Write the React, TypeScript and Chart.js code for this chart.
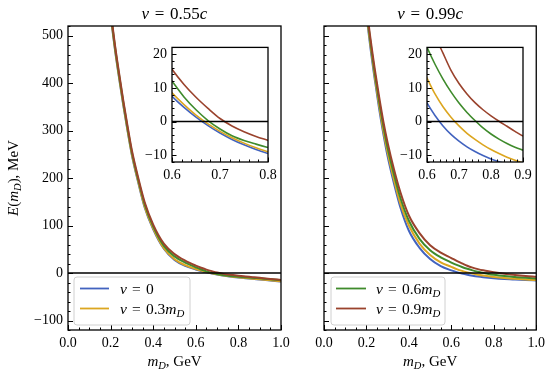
import React, { useEffect, useRef } from 'react';
import { Chart, registerables } from 'chart.js';

Chart.register(...registerables);

// ---------- data ----------
const mD = [0.18, 0.2, 0.22, 0.24, 0.26, 0.28, 0.3, 0.33, 0.36, 0.4, 0.45, 0.5, 0.55, 0.6, 0.625, 0.65, 0.675, 0.7, 0.725, 0.75, 0.775, 0.8, 0.825, 0.85, 0.875, 0.9, 0.95, 1.0];

// v = 0.55c
const slowNu0 = [640, 545, 472, 410, 352, 298, 248, 190, 138, 92, 51, 27.5, 15, 7.5, 4.2, 1.3, -1.2, -3.4, -5.3, -6.9, -8.3, -9.5, -10.6, -11.7, -12.7, -13.7, -15.9, -18];
const slowNu03 = [642, 547, 474, 412, 354, 300, 250, 192, 140, 94, 52, 29, 16.5, 8.5, 5.0, 1.9, -0.7, -2.9, -4.8, -6.4, -7.8, -9.0, -10.2, -11.3, -12.3, -13.3, -15.4, -17.4];
const slowNu06 = [646, 551, 478, 416, 358, 304, 254, 196, 145, 98, 57, 35, 22, 12, 7.3, 3.5, 0.3, -2.2, -4.2, -5.6, -6.7, -7.7, -8.6, -9.5, -10.4, -11.3, -13.3, -15.3];
const slowNu09 = [650, 555, 482, 420, 362, 308, 258, 200, 149, 102, 62, 40, 26, 15.5, 11, 7.2, 3.9, 0.9, -1.3, -3.0, -4.4, -5.6, -6.8, -8.0, -9.1, -10.2, -12.4, -14.5];

// v = 0.99c
const fastNu0 = [640, 545, 470, 405, 345, 292, 245, 188, 138, 89, 53, 29.5, 14.5, 5.5, 1.8, -1.3, -3.8, -5.8, -7.5, -8.9, -10.1, -11.1, -11.9, -12.6, -13.2, -13.7, -14.8, -15.8];
const fastNu03 = [645, 550, 476, 411, 352, 299, 253, 196, 146, 100, 62, 38, 22.5, 12.9, 8.2, 4.4, 1.3, -1.3, -3.5, -5.3, -6.9, -8.3, -9.5, -10.6, -11.5, -12.3, -13.7, -14.9];
const fastNu06 = [650, 556, 483, 419, 361, 309, 263, 207, 158, 110, 72, 48, 33, 22, 17, 12.6, 8.8, 5.5, 2.7, 0.3, -1.9, -3.7, -5.2, -6.5, -7.6, -8.5, -10.2, -11.6];
const fastNu09 = [655, 562, 490, 427, 370, 318, 274, 218, 170, 121, 84, 58.5, 43, 31.5, 25.5, 20.3, 15.2, 11.3, 8.2, 5.6, 3.5, 1.7, 0.1, -1.4, -2.9, -4.3, -6.4, -8];

const mainXTicks = [0, 0.2, 0.4, 0.6, 0.8, 1.0];
const mainYTicks = [-100, 0, 100, 200, 300, 400, 500];
const insetYTicks = [-10, 0, 10, 20];
const slowInsetXTicks = [0.6, 0.7, 0.8];
const fastInsetXTicks = [0.6, 0.7, 0.8, 0.9];

const colors = ['#4263bf', '#dca620', '#3f8b2c', '#9a432d'];

// ---------- text helpers ----------
type Seg = { t: string; i?: boolean; sub?: boolean };
const SERIF = '"Liberation Serif", "DejaVu Serif", serif';
const EQ = '\u2004=\u2004';

const nuLabels: Seg[][] = [
  [{ t: '\u03bd', i: true }, { t: EQ + '0' }],
  [{ t: '\u03bd', i: true }, { t: EQ + '0.3' }, { t: 'm', i: true }, { t: 'D', i: true, sub: true }],
  [{ t: '\u03bd', i: true }, { t: EQ + '0.6' }, { t: 'm', i: true }, { t: 'D', i: true, sub: true }],
  [{ t: '\u03bd', i: true }, { t: EQ + '0.9' }, { t: 'm', i: true }, { t: 'D', i: true, sub: true }],
];

function fontStr(size: number, italic?: boolean) {
  return `${italic ? 'italic ' : ''}${size}px ${SERIF}`;
}

function drawRich(ctx: CanvasRenderingContext2D, segs: Seg[], x: number, y: number, size: number, align: 'center' | 'left') {
  let w = 0;
  for (const s of segs) {
    ctx.font = fontStr(s.sub ? size * 0.7 : size, s.i);
    w += ctx.measureText(s.t).width;
  }
  let cx = align === 'center' ? x - w / 2 : x;
  ctx.textAlign = 'left';
  ctx.textBaseline = 'alphabetic';
  ctx.fillStyle = '#000';
  for (const s of segs) {
    const sz = s.sub ? size * 0.7 : size;
    ctx.font = fontStr(sz, s.i);
    ctx.fillText(s.t, cx, s.sub ? y + size * 0.22 : y);
    cx += ctx.measureText(s.t).width;
  }
}

function fmtNum(v: number, dec: number) {
  const s = Math.abs(v).toFixed(dec);
  return v < -1e-9 ? '\u2212' + s : s;
}

type Legend = { box: [number, number, number, number]; items: number[]; lineX: [number, number]; textX: number; rows: number[] };

type PanelCfg = {
  series: number[][];
  xMin: number; xMax: number; yMin: number; yMax: number;
  xTicks: number[]; yTicks: number[];
  xMinor: number; yMinor: number;
  showYLabels: boolean;
  padding: { left: number; top: number; right: number; bottom: number };
  yWidth: number; xHeight: number;
  lineWidth: number; majorLen: number; minorLen: number;
  whiteBg: boolean;
  title?: Seg[];
  xTitle?: boolean;
  yTitle?: boolean;
  legend?: Legend;
};

function tickValues(min: number, max: number, step: number) {
  const out: number[] = [];
  const n0 = Math.ceil(min / step - 1e-6);
  const n1 = Math.floor(max / step + 1e-6);
  for (let n = n0; n <= n1; n++) out.push(n * step);
  return out;
}

function isMajor(v: number, majors: number[]) {
  return majors.some((m) => Math.abs(m - v) < 1e-6);
}

function makeChart(canvas: HTMLCanvasElement, cfg: PanelCfg) {
  const decor = {
    id: 'decor',
    beforeDraw(chart: any) {
      if (!cfg.whiteBg) return;
      const a = chart.chartArea;
      const ctx = chart.ctx;
      ctx.save();
      ctx.fillStyle = '#fff';
      ctx.fillRect(a.left, a.top, a.right - a.left, a.bottom - a.top);
      ctx.restore();
    },
    afterDatasetsDraw(chart: any) {
      const ctx: CanvasRenderingContext2D = chart.ctx;
      const a = chart.chartArea;
      const xs = chart.scales.x;
      const ys = chart.scales.y;
      ctx.save();
      // zero line
      const y0 = ys.getPixelForValue(0);
      ctx.beginPath();
      ctx.moveTo(a.left, y0);
      ctx.lineTo(a.right, y0);
      ctx.lineWidth = 1.5;
      ctx.strokeStyle = '#000';
      ctx.stroke();
      // ticks (inward, bottom and left)
      ctx.lineWidth = 1;
      ctx.beginPath();
      for (const v of tickValues(cfg.xMin, cfg.xMax, cfg.xMinor)) {
        const px = Math.round(xs.getPixelForValue(v)) + 0.5;
        const len = isMajor(v, cfg.xTicks) ? cfg.majorLen : cfg.minorLen;
        ctx.moveTo(px, a.bottom);
        ctx.lineTo(px, a.bottom - len);
      }
      for (const v of tickValues(cfg.yMin, cfg.yMax, cfg.yMinor)) {
        const py = Math.round(ys.getPixelForValue(v)) + 0.5;
        const len = isMajor(v, cfg.yTicks) ? cfg.majorLen : cfg.minorLen;
        ctx.moveTo(a.left, py);
        ctx.lineTo(a.left + len, py);
      }
      ctx.stroke();
      // frame
      ctx.lineWidth = 1.3;
      ctx.strokeRect(a.left, a.top, a.right - a.left, a.bottom - a.top);
      ctx.restore();
    },
    afterDraw(chart: any) {
      const ctx: CanvasRenderingContext2D = chart.ctx;
      const a = chart.chartArea;
      const cx = (a.left + a.right) / 2;
      ctx.save();
      if (cfg.title) drawRich(ctx, cfg.title, cx, 18.5, 17, 'center');
      if (cfg.xTitle) {
        drawRich(ctx, [{ t: 'm', i: true }, { t: 'D', i: true, sub: true }, { t: ', GeV' }], cx, 366, 15, 'center');
      }
      if (cfg.yTitle) {
        ctx.save();
        ctx.translate(18, (a.top + a.bottom) / 2);
        ctx.rotate(-Math.PI / 2);
        drawRich(ctx, [{ t: 'E', i: true }, { t: '(' }, { t: 'm', i: true }, { t: 'D', i: true, sub: true }, { t: '), MeV' }], 0, 0, 15, 'center');
        ctx.restore();
      }
      const lg = cfg.legend;
      if (lg) {
        const [bx, by, bw, bh] = lg.box;
        const r = 3;
        ctx.beginPath();
        ctx.moveTo(bx + r, by);
        ctx.lineTo(bx + bw - r, by);
        ctx.arcTo(bx + bw, by, bx + bw, by + r, r);
        ctx.lineTo(bx + bw, by + bh - r);
        ctx.arcTo(bx + bw, by + bh, bx + bw - r, by + bh, r);
        ctx.lineTo(bx + r, by + bh);
        ctx.arcTo(bx, by + bh, bx, by + bh - r, r);
        ctx.lineTo(bx, by + r);
        ctx.arcTo(bx, by, bx + r, by, r);
        ctx.closePath();
        ctx.fillStyle = 'rgba(255,255,255,0.85)';
        ctx.fill();
        ctx.strokeStyle = '#d0d0d0';
        ctx.lineWidth = 1;
        ctx.stroke();
        lg.items.forEach((k, j) => {
          const ry = lg.rows[j];
          ctx.beginPath();
          ctx.moveTo(lg.lineX[0], ry);
          ctx.lineTo(lg.lineX[1], ry);
          ctx.strokeStyle = colors[k];
          ctx.lineWidth = 1.8;
          ctx.stroke();
          drawRich(ctx, nuLabels[k], lg.textX, ry + 5, 15.5, 'left');
        });
      }
      ctx.restore();
    },
  };

  const tickFont = { family: SERIF, size: 14 };

  return new Chart(canvas, {
    type: 'line',
    data: {
      datasets: cfg.series.map((vals, k) => ({
        label: 'nu' + k,
        data: mD.map((m, i) => ({ x: m, y: vals[i] })),
        borderColor: colors[k],
        backgroundColor: colors[k],
        borderWidth: cfg.lineWidth,
        pointRadius: 0,
        fill: false,
        cubicInterpolationMode: 'monotone',
        order: 3 - k,
        clip: 0,
      })),
    },
    options: {
      responsive: false,
      maintainAspectRatio: false,
      animation: false,
      devicePixelRatio: 1,
      layout: { padding: cfg.padding },
      plugins: { legend: { display: false }, tooltip: { enabled: false }, title: { display: false } },
      events: [],
      scales: {
        x: {
          type: 'linear',
          min: cfg.xMin,
          max: cfg.xMax,
          grid: { display: false, drawTicks: false },
          border: { display: false },
          ticks: {
            font: tickFont,
            color: '#000',
            padding: 5,
            maxRotation: 0,
            autoSkip: false,
            callback: (v: any) => fmtNum(Number(v), 1),
          },
          afterBuildTicks: (s: any) => {
            s.ticks = cfg.xTicks.map((v) => ({ value: v }));
          },
          afterFit: (s: any) => {
            s.height = cfg.xHeight;
          },
        },
        y: {
          type: 'linear',
          min: cfg.yMin,
          max: cfg.yMax,
          grid: { display: false, drawTicks: false },
          border: { display: false },
          ticks: {
            display: cfg.showYLabels,
            font: tickFont,
            color: '#000',
            padding: 5,
            autoSkip: false,
            callback: (v: any) => fmtNum(Number(v), 0),
          },
          afterBuildTicks: (s: any) => {
            s.ticks = cfg.yTicks.map((v) => ({ value: v }));
          },
          afterFit: (s: any) => {
            s.width = cfg.yWidth;
          },
        },
      },
    } as any,
    plugins: [decor as any],
  });
}

export default function App() {
  const c1 = useRef<HTMLCanvasElement>(null);
  const c2 = useRef<HTMLCanvasElement>(null);
  const c3 = useRef<HTMLCanvasElement>(null);
  const c4 = useRef<HTMLCanvasElement>(null);

  useEffect(() => {
    const slow = [slowNu0, slowNu03, slowNu06, slowNu09];
    const fast = [fastNu0, fastNu03, fastNu06, fastNu09];
    const mainBase = {
      xMin: 0, xMax: 1, yMin: -120, yMax: 520,
      xTicks: mainXTicks, yTicks: mainYTicks,
      xMinor: 0.05, yMinor: 20,
      xHeight: 43, lineWidth: 2, majorLen: 5, minorLen: 2.5,
      whiteBg: false, xTitle: true,
    };
    const insetBase = {
      yMin: -12, yMax: 22,
      yTicks: insetYTicks,
      xMinor: 0.02, yMinor: 2,
      showYLabels: true,
      padding: { left: 0, top: 6, right: 14, bottom: 0 },
      yWidth: 42, xHeight: 24, lineWidth: 1.6, majorLen: 4.5, minorLen: 2.5,
      whiteBg: true,
    };
    const charts = [
      makeChart(c1.current!, {
        ...mainBase,
        series: slow,
        showYLabels: true,
        padding: { left: 0, top: 26, right: 19, bottom: 0 },
        yWidth: 68,
        title: [{ t: 'v', i: true }, { t: EQ + '0.55' }, { t: 'c', i: true }],
        yTitle: true,
        legend: { box: [74, 277, 116, 48], items: [0, 1], lineX: [80, 109], textX: 120, rows: [288.5, 308.5] },
      }),
      makeChart(c2.current!, {
        ...mainBase,
        series: fast,
        showYLabels: false,
        padding: { left: 24, top: 26, right: 12, bottom: 0 },
        yWidth: 0,
        title: [{ t: 'v', i: true }, { t: EQ + '0.99' }, { t: 'c', i: true }],
        legend: { box: [31, 277, 114, 48], items: [2, 3], lineX: [36, 66], textX: 76, rows: [288.5, 308.5] },
      }),
      makeChart(c3.current!, {
        ...insetBase,
        series: slow,
        xMin: 0.6, xMax: 0.8,
        xTicks: slowInsetXTicks,
      }),
      makeChart(c4.current!, {
        ...insetBase,
        series: fast,
        xMin: 0.6, xMax: 0.9,
        xTicks: fastInsetXTicks,
      }),
    ];
    return () => charts.forEach((c) => c.destroy());
  }, []);

  return (
    <div style={{ position: 'absolute', left: 0, top: 0, width: 550, height: 373, background: '#fff', overflow: 'hidden' }}>
      <canvas ref={c1} width={300} height={373} style={{ position: 'absolute', left: 0, top: 0 }} />
      <canvas ref={c2} width={250} height={373} style={{ position: 'absolute', left: 300, top: 0 }} />
      <canvas ref={c3} width={152} height={152} style={{ position: 'absolute', left: 130, top: 34 }} />
      <canvas ref={c4} width={152} height={152} style={{ position: 'absolute', left: 385, top: 34 }} />
    </div>
  );
}
